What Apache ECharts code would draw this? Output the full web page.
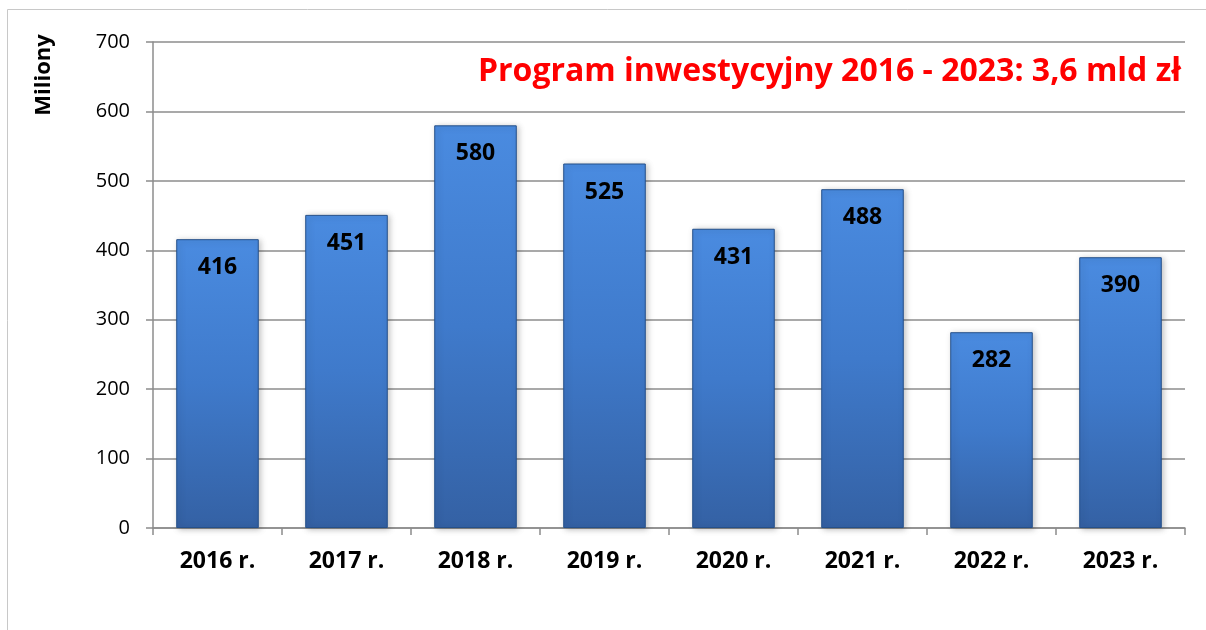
<!DOCTYPE html>
<html>
<head>
<meta charset="utf-8">
<script src="https://cdn.jsdelivr.net/npm/echarts@6/dist/echarts.min.js"></script>
<style>
  html, body { margin: 0; padding: 0; background: #fff; }
  #chart { width: 1206px; height: 630px; }
</style>
</head>
<body>
<div id="chart"></div>
<script>
// categories and values
const years = ['2016 r.', '2017 r.', '2018 r.', '2019 r.', '2020 r.', '2021 r.', '2022 r.', '2023 r.'];
const values = [416, 451, 580, 525, 431, 488, 282, 390];
const yTicks = [0, 100, 200, 300, 400, 500, 600, 700];

const fontFamily = '"Open Sans", "Noto Sans", sans-serif';

const chart = echarts.init(document.getElementById('chart'));

const option = {
  animation: false,
  backgroundColor: '#fff',
  graphic: [
    {
      type: 'rect',
      shape: { x: 7.5, y: 9.5, width: 1220, height: 640 },
      style: { fill: 'none', stroke: '#c8c8c8', lineWidth: 1 },
      silent: true
    },
    {
      type: 'text',
      x: 1181,
      y: 72,
      style: {
        text: 'Program inwestycyjny 2016 - 2023: 3,6 mld zł',
        fill: '#ff0000',
        font: 'bold 32px ' + fontFamily,
        textAlign: 'right',
        textVerticalAlign: 'middle'
      }
    },
    {
      type: 'text',
      x: 44,
      y: 75,
      rotation: Math.PI / 2,
      style: {
        text: 'Miliony',
        fill: '#000',
        font: 'bold 22px ' + fontFamily,
        textAlign: 'center',
        textVerticalAlign: 'middle'
      }
    }
  ],
  grid: {
    left: 153,
    right: 21,
    top: 42,
    bottom: 102,
    containLabel: false
  },
  xAxis: {
    type: 'category',
    data: years,
    axisLine: { lineStyle: { color: '#8c8c8c', width: 1.5 } },
    axisTick: { show: true, length: 7, lineStyle: { color: '#8c8c8c', width: 1.5 } },
    axisLabel: {
      color: '#000',
      fontWeight: 'bold',
      fontSize: 23,
      fontFamily: fontFamily,
      margin: 22
    }
  },
  yAxis: {
    type: 'value',
    min: yTicks[0],
    max: yTicks[yTicks.length - 1],
    interval: 100,
    axisLine: { show: true, lineStyle: { color: '#8c8c8c', width: 1.5 } },
    axisTick: { show: true, length: 7, lineStyle: { color: '#8c8c8c', width: 1.5 } },
    splitLine: { lineStyle: { color: '#8c8c8c', width: 1.5 } },
    axisLabel: {
      color: '#000',
      fontSize: 20,
      fontFamily: fontFamily,
      margin: 23
    }
  },
  series: [
    {
      type: 'bar',
      data: values,
      barCategoryGap: '36%',
      itemStyle: {
        color: new echarts.graphic.LinearGradient(0, 0, 0, 1, [
          { offset: 0, color: '#4a8be0' },
          { offset: 0.5, color: '#3f7acb' },
          { offset: 1, color: '#3461a4' }
        ]),
        borderColor: '#25508a',
        borderWidth: 1,
        shadowColor: 'rgba(0,0,0,0.25)',
        shadowBlur: 6,
        shadowOffsetX: 2,
        shadowOffsetY: 1
      },
      label: {
        show: true,
        position: 'insideTop',
        distance: 17,
        color: '#000',
        fontWeight: 'bold',
        fontSize: 23,
        fontFamily: fontFamily
      }
    }
  ]
};

chart.setOption(option);
</script>
</body>
</html>
